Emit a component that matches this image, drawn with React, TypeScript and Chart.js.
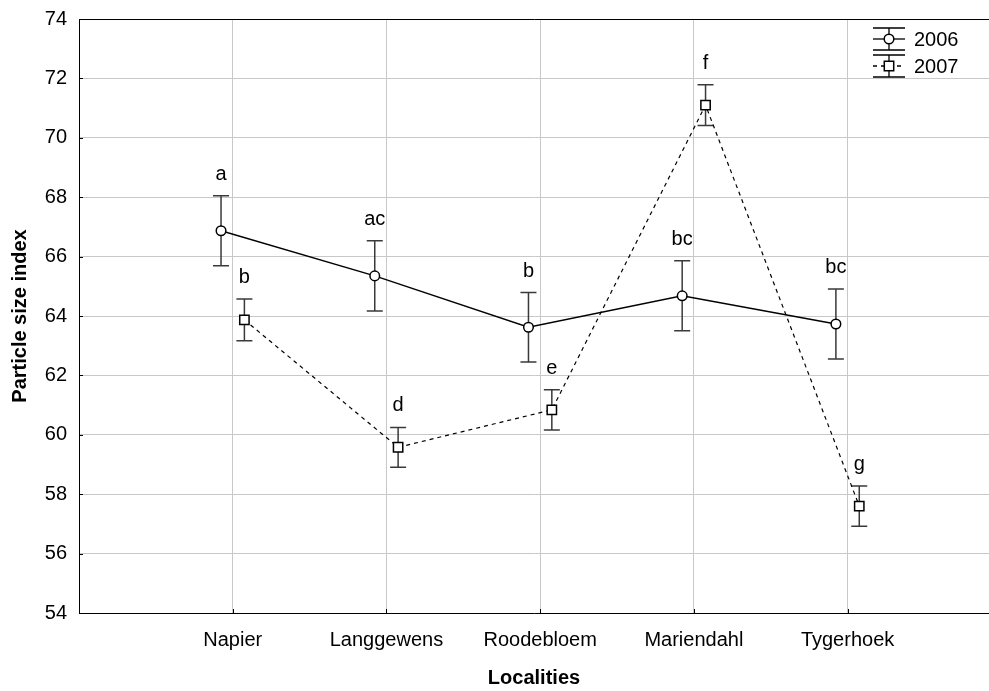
import { useEffect, useRef } from 'react';
import { Chart, registerables } from 'chart.js';

Chart.register(...registerables);

// Localities along the x axis
const localities = ['Napier', 'Langgewens', 'Roodebloem', 'Mariendahl', 'Tygerhoek'];
const years = ['2006', '2007'];

// Means and error half-widths of the particle size index
const mean2006 = [66.87, 65.35, 63.62, 64.68, 63.73];
const err2006 = [1.18, 1.18, 1.17, 1.18, 1.18];
const group2006 = ['a', 'ac', 'b', 'bc', 'bc'];

const mean2007 = [63.87, 59.58, 60.84, 71.1, 57.6];
const err2007 = [0.7, 0.67, 0.68, 0.69, 0.68];
const group2007 = ['b', 'd', 'e', 'f', 'g'];

const yMin = 54;
const yMax = 74;
const yStep = 2;

const FONT = '"Liberation Sans", Arial, Helvetica, sans-serif';
const GRID = '#c8c8c8';
const SHIFT = 0.076;

const toPoints = (vals: number[], dx: number) => vals.map((y, i) => ({ x: i + 1 + dx, y }));

const errorBars = {
  id: 'errorBars',
  beforeDatasetsDraw(chart: any) {
    const { ctx } = chart;
    const ys = chart.scales.y;
    chart.data.datasets.forEach((ds: any, di: number) => {
      const meta = chart.getDatasetMeta(di);
      ctx.save();
      ctx.strokeStyle = '#3a3a3a';
      ctx.lineWidth = 1.5;
      meta.data.forEach((el: any, i: number) => {
        const v = ds.data[i].y;
        const e = ds.errors[i];
        const top = ys.getPixelForValue(v + e);
        const bot = ys.getPixelForValue(v - e);
        const x = el.x;
        ctx.beginPath();
        ctx.moveTo(x, top);
        ctx.lineTo(x, bot);
        ctx.moveTo(x - 8, top);
        ctx.lineTo(x + 8, top);
        ctx.moveTo(x - 8, bot);
        ctx.lineTo(x + 8, bot);
        ctx.stroke();
      });
      ctx.restore();
    });
  },
  afterDatasetsDraw(chart: any) {
    const { ctx } = chart;
    const ys = chart.scales.y;
    ctx.save();
    ctx.fillStyle = '#000';
    ctx.font = `20px ${FONT}`;
    ctx.textAlign = 'center';
    ctx.textBaseline = 'alphabetic';
    chart.data.datasets.forEach((ds: any, di: number) => {
      const meta = chart.getDatasetMeta(di);
      meta.data.forEach((el: any, i: number) => {
        const top = ys.getPixelForValue(ds.data[i].y + ds.errors[i]);
        ctx.fillText(ds.groups[i], el.x, top - 16);
      });
    });
    ctx.restore();
  },
};

const innerTicks = {
  id: 'innerTicks',
  afterDraw(chart: any) {
    const { ctx, chartArea } = chart;
    const xs = chart.scales.x;
    const ys = chart.scales.y;
    ctx.save();
    ctx.strokeStyle = '#000';
    ctx.lineWidth = 1;
    ctx.beginPath();
    ys.ticks.forEach((t: any) => {
      const y = Math.round(ys.getPixelForValue(t.value)) + 0.5;
      ctx.moveTo(chartArea.left, y);
      ctx.lineTo(chartArea.left + 4, y);
    });
    xs.ticks.forEach((t: any) => {
      const x = Math.round(xs.getPixelForValue(t.value)) + 0.5;
      ctx.moveTo(x, chartArea.bottom);
      ctx.lineTo(x, chartArea.bottom - 4);
    });
    ctx.stroke();
    ctx.restore();
  },
};

const symbolLegend = {
  id: 'symbolLegend',
  afterDraw(chart: any) {
    const { ctx, chartArea } = chart;
    const cx = chartArea.right - 100;
    ctx.save();
    chart.data.datasets.forEach((ds: any, i: number) => {
      const y = chartArea.top + 20 + i * 27;
      ctx.strokeStyle = '#000';
      ctx.lineWidth = 1.3;
      ctx.setLineDash([]);
      ctx.beginPath();
      ctx.moveTo(cx - 16, y - 11);
      ctx.lineTo(cx + 16, y - 11);
      ctx.moveTo(cx - 16, y + 11);
      ctx.lineTo(cx + 16, y + 11);
      ctx.moveTo(cx, y - 11);
      ctx.lineTo(cx, y + 11);
      ctx.stroke();
      ctx.setLineDash(ds.borderDash || []);
      ctx.beginPath();
      ctx.moveTo(cx - 16, y);
      ctx.lineTo(cx + 16, y);
      ctx.stroke();
      ctx.setLineDash([]);
      ctx.fillStyle = '#fff';
      ctx.lineWidth = 1.5;
      ctx.beginPath();
      if (ds.pointStyle === 'rect') {
        ctx.rect(cx - 4.7, y - 4.7, 9.4, 9.4);
      } else {
        ctx.arc(cx, y, 4.8, 0, Math.PI * 2);
      }
      ctx.fill();
      ctx.stroke();
      ctx.fillStyle = '#000';
      ctx.font = `20px ${FONT}`;
      ctx.textAlign = 'left';
      ctx.textBaseline = 'middle';
      ctx.fillText(ds.label, cx + 25, y + 1);
    });
    ctx.restore();
  },
};

const noPadding = (s: any) => {
  s.paddingLeft = 0;
  s.paddingRight = 0;
  s.paddingTop = 0;
  s.paddingBottom = 0;
};

export default function App() {
  const canvasRef = useRef<HTMLCanvasElement | null>(null);

  useEffect(() => {
    if (!canvasRef.current) return;
    const chart = new Chart(canvasRef.current, {
      type: 'line',
      data: {
        datasets: [
          {
            label: years[0],
            data: toPoints(mean2006, -SHIFT),
            errors: err2006,
            groups: group2006,
            borderColor: '#000',
            borderWidth: 1.4,
            pointStyle: 'circle',
            pointRadius: 4.8,
            pointBorderWidth: 1.5,
            pointBackgroundColor: '#fff',
            pointBorderColor: '#000',
            tension: 0,
          } as any,
          {
            label: years[1],
            data: toPoints(mean2007, SHIFT),
            errors: err2007,
            groups: group2007,
            borderColor: '#000',
            borderWidth: 1.2,
            borderDash: [4, 4],
            pointStyle: 'rect',
            pointRadius: 6.6,
            pointBorderWidth: 1.5,
            pointBackgroundColor: '#fff',
            pointBorderColor: '#000',
            tension: 0,
          } as any,
        ],
      },
      options: {
        responsive: false,
        animation: false,
        devicePixelRatio: 1,
        layout: { autoPadding: false, padding: { top: 19, right: 0, left: 0, bottom: 0 } },
        plugins: {
          legend: { display: false },
          tooltip: { enabled: false },
        },
        scales: {
          x: {
            type: 'linear',
            min: 0,
            max: 5.92,
            afterBuildTicks: (s: any) => {
              s.ticks = localities.map((_, i) => ({ value: i + 1 }));
            },
            afterFit: (s: any) => {
              s.height = 78;
              noPadding(s);
            },
            ticks: {
              callback: (v: any) => localities[Number(v) - 1] ?? '',
              font: { family: FONT, size: 20 },
              color: '#000',
              padding: 15,
              autoSkip: false,
              maxRotation: 0,
            },
            grid: { color: GRID, lineWidth: 1, drawTicks: false },
            border: { color: '#000', width: 1 },
            title: {
              display: true,
              text: 'Localities',
              color: '#000',
              font: { family: FONT, size: 20, weight: 'bold' },
              padding: { top: 0, bottom: 1 },
            },
          },
          y: {
            min: yMin,
            max: yMax,
            afterFit: (s: any) => {
              s.width = 79;
              noPadding(s);
            },
            ticks: {
              stepSize: yStep,
              font: { family: FONT, size: 20 },
              color: '#000',
              padding: 12,
            },
            grid: {
              color: (c: any) => (c.tick && c.tick.value === yMax ? '#000' : GRID),
              lineWidth: 1,
              drawTicks: false,
            },
            border: { color: '#000', width: 1 },
            title: {
              display: true,
              text: 'Particle size index',
              color: '#000',
              font: { family: FONT, size: 20, weight: 'bold' },
              padding: { top: 8, bottom: 0 },
            },
          },
        },
      } as any,
      plugins: [errorBars, innerTicks, symbolLegend],
    });
    return () => chart.destroy();
  }, []);

  return (
    <div style={{ position: 'absolute', left: 0, top: 0, width: 989, height: 691, background: '#fff' }}>
      <canvas ref={canvasRef} width={989} height={691} style={{ display: 'block' }} />
    </div>
  );
}
